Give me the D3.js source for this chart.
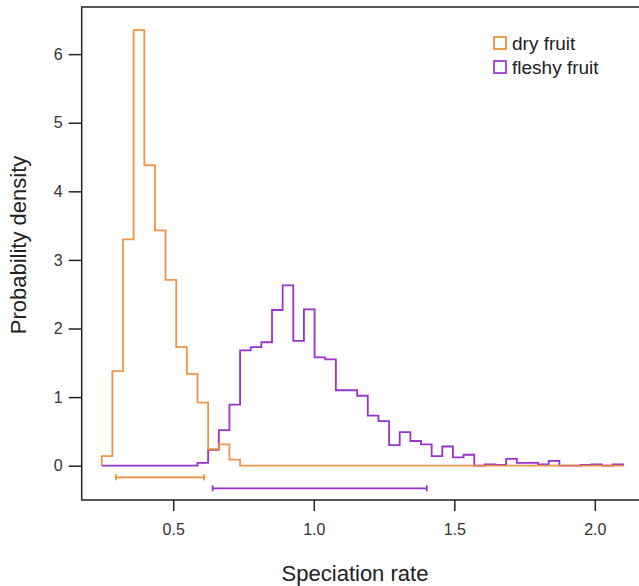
<!DOCTYPE html>
<html>
<head>
<meta charset="utf-8">
<script src="https://cdn.jsdelivr.net/npm/d3@7"></script>
<style>
  html, body { margin: 0; padding: 0; background: #ffffff; }
  svg { display: block; font-family: "Liberation Sans", Arial, sans-serif; }
</style>
</head>
<body>
<svg id="chart" width="639" height="586"></svg>
<script>
// ---- data ----
const seriesNames = ["dry fruit", "fleshy fruit"];
const seriesColors = ["#EE8A35", "#9A32CD"];
// histogram bins: first edge and bin width (speciation rate units), 49 bins
const binStart = 0.2455;
const binWidth = 0.03787;
const dryDensity = [0.14, 1.38, 3.30, 6.35, 4.38, 3.43, 2.71, 1.73, 1.34, 0.92,
  0.24, 0.31, 0.09, 0, 0, 0, 0, 0, 0, 0,
  0, 0, 0, 0, 0, 0, 0, 0, 0, 0,
  0, 0, 0, 0, 0, 0, 0, 0, 0, 0,
  0, 0, 0, 0, 0, 0, 0, 0, 0];
const fleshyDensity = [0, 0, 0, 0, 0, 0, 0, 0, 0, 0.04,
  0.23, 0.52, 0.89, 1.68, 1.73, 1.80, 2.27, 2.63, 1.82, 2.28,
  1.58, 1.55, 1.10, 1.10, 1.02, 0.73, 0.65, 0.30, 0.49, 0.36,
  0.31, 0.14, 0.28, 0.12, 0.16, 0, 0.02, 0.01, 0.10, 0.04,
  0.04, 0.02, 0.07, 0, 0, 0.01, 0.02, 0, 0.02];
// 95% intervals (low, high)
const dryInterval = [0.296, 0.610];
const fleshyInterval = [0.640, 1.402];
const xTicks = [0.5, 1.0, 1.5, 2.0];
const yTicks = [0, 1, 2, 3, 4, 5, 6];
const xTitle = "Speciation rate";
const yTitle = "Probability density";

// ---- drawing ----
const svg = d3.select("#chart");
const plot = { left: 81.7, right: 644, top: 7, bottom: 500 };
const x = d3.scaleLinear().domain([0.1743, 2.175]).range([plot.left, plot.right]);
const y = d3.scaleLinear().domain([-0.5, 6.687]).range([plot.bottom, plot.top]);

const series = [dryDensity, fleshyDensity];
const intervals = [dryInterval, fleshyInterval];
const intervalLevels = [-0.17, -0.33];

function stepPoints(vals) {
  const pts = [[binStart, 0]];
  vals.forEach((v, i) => {
    const a = binStart + i * binWidth, b = a + binWidth;
    pts.push([a, v], [b, v]);
  });
  pts.push([binStart + vals.length * binWidth, 0]);
  return pts;
}
const line = d3.line().x(d => x(d[0])).y(d => y(d[1]));

// draw fleshy first, dry on top
[1, 0].forEach(k => {
  svg.append("path")
    .attr("d", line(stepPoints(series[k])))
    .attr("fill", "none")
    .attr("stroke", seriesColors[k])
    .attr("stroke-width", 1.8)
    .attr("stroke-opacity", k === 0 ? 0.9 : 1)
    .attr("stroke-linejoin", "miter");
});

// interval bars
[0, 1].forEach(k => {
  const g = svg.append("g").attr("stroke", seriesColors[k]).attr("stroke-width", 1.7);
  const yy = y(intervalLevels[k]);
  g.append("line").attr("x1", x(intervals[k][0])).attr("x2", x(intervals[k][1]))
    .attr("y1", yy).attr("y2", yy);
  intervals[k].forEach(v => {
    g.append("line").attr("x1", x(v)).attr("x2", x(v)).attr("y1", yy - 3).attr("y2", yy + 3);
  });
});

// box
svg.append("rect")
  .attr("x", plot.left).attr("y", plot.top)
  .attr("width", plot.right - plot.left).attr("height", plot.bottom - plot.top)
  .attr("fill", "none").attr("stroke", "#222").attr("stroke-width", 1.5);

// axes
const xAxis = d3.axisBottom(x).tickValues(xTicks).tickFormat(d3.format(".1f")).tickSize(11).tickPadding(13);
const gx = svg.append("g").attr("transform", `translate(0,${plot.bottom})`).call(xAxis);
gx.select(".domain").remove();
gx.selectAll("line").attr("stroke", "#222").attr("stroke-width", 1.5);
gx.selectAll("text").attr("font-size", 16).attr("fill", "#333")
  .attr("font-family", "'Liberation Sans', Arial, sans-serif");

const yAxis = d3.axisLeft(y).tickValues(yTicks).tickFormat(d3.format("d")).tickSize(13).tickPadding(6);
const gy = svg.append("g").attr("transform", `translate(${plot.left},0)`).call(yAxis);
gy.select(".domain").remove();
gy.selectAll("line").attr("stroke", "#222").attr("stroke-width", 1.5);
gy.selectAll("text").attr("font-size", 16).attr("fill", "#333")
  .attr("font-family", "'Liberation Sans', Arial, sans-serif");

// titles
svg.append("text").attr("x", 355).attr("y", 581)
  .attr("text-anchor", "middle").attr("font-size", 22).attr("fill", "#222").text(xTitle);
svg.append("text").attr("transform", `translate(26,245) rotate(-90)`)
  .attr("text-anchor", "middle").attr("font-size", 22).attr("fill", "#222").text(yTitle);

// legend
const legendY = [43, 67];
seriesNames.forEach((name, k) => {
  svg.append("rect").attr("x", 494).attr("y", legendY[k] - 6).attr("width", 12).attr("height", 12)
    .attr("fill", "none").attr("stroke", seriesColors[k]).attr("stroke-width", 1.7);
  svg.append("text").attr("x", 512).attr("y", legendY[k]).attr("dy", "0.35em")
    .attr("font-size", 19).attr("fill", "#222").text(name);
});
</script>
</body>
</html>
